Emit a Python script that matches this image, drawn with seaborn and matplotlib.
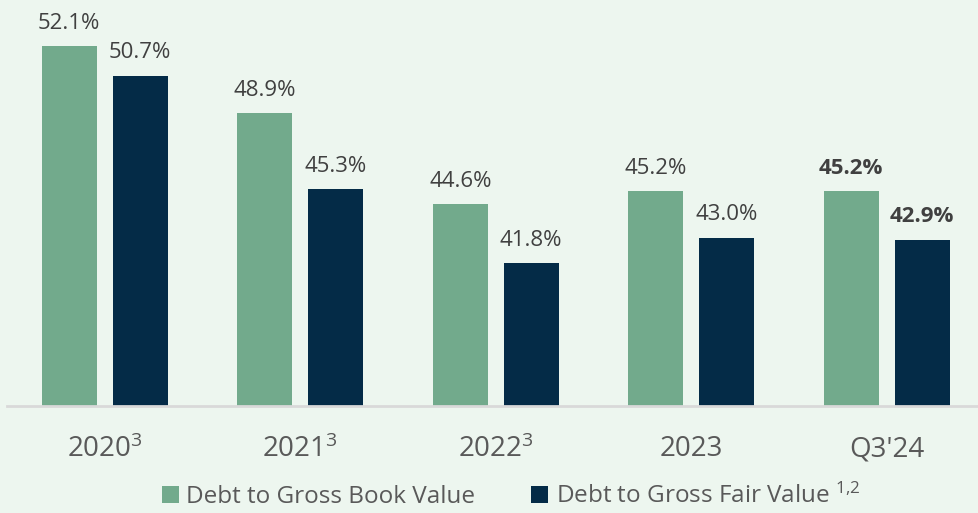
import pandas as pd
import matplotlib
matplotlib.use("Agg")
import matplotlib.pyplot as plt
import seaborn as sns

# chart values
periods = ["2020$^{3}$", "2021$^{3}$", "2022$^{3}$", "2023", "Q3'24"]
book_value = [52.1, 48.9, 44.6, 45.2, 45.2]
fair_value = [50.7, 45.3, 41.8, 43.0, 42.9]
series_names = ["Debt to Gross Book Value", "Debt to Gross Fair Value $^{1{,}2}$"]

bg = "#EDF6EF"
green = "#72AA8C"
navy = "#042B47"

sns.set_theme(style="white")
plt.rcParams["font.family"] = ["Open Sans", "DejaVu Sans"]
plt.rcParams["mathtext.fontset"] = "custom"
plt.rcParams["mathtext.rm"] = "Open Sans"
plt.rcParams["mathtext.it"] = "Open Sans"

df = pd.DataFrame({
    "period": periods * 2,
    "series": [series_names[0]] * 5 + [series_names[1]] * 5,
    "value": book_value + fair_value,
})

fig = plt.figure(figsize=(9.79, 5.13), dpi=100, facecolor=bg)
ax = fig.add_axes([7 / 979, 0.208, 977.5 / 979, 0.7885])
ax.set_facecolor(bg)

sns.barplot(data=df, x="period", y="value", hue="series", order=periods,
            palette=[green, navy], width=0.726, gap=0.226, errorbar=None,
            linewidth=0, saturation=1, ax=ax)

ax.set_ylim(35, 54.2)
ax.set_xlim(-0.5, 4.5)

for cont in ax.containers:
    labels = ax.bar_label(cont, fmt="%.1f%%", padding=9, fontsize=16, color="#404040")
    labels[-1].set_fontweight("bold")

for s in ["top", "right", "left"]:
    ax.spines[s].set_visible(False)
ax.spines["bottom"].set_color("#D9D9D9")
ax.spines["bottom"].set_linewidth(2)
ax.set_yticks([])
ax.set_xlabel("")
ax.set_ylabel("")
ax.tick_params(axis="x", length=0, labelsize=20, labelcolor="#595959", pad=21)

handles, lbls = ax.get_legend_handles_labels()
ax.get_legend().remove()
fig.legend(handles, lbls, loc="lower center", bbox_to_anchor=(0.522, -0.035), ncol=2,
           frameon=False, fontsize=17.5, labelcolor="#595959", handlelength=0.7,
           handleheight=0.7, handletextpad=0.3, columnspacing=2.3)

fig.savefig("out.png", dpi=100, facecolor=bg)
